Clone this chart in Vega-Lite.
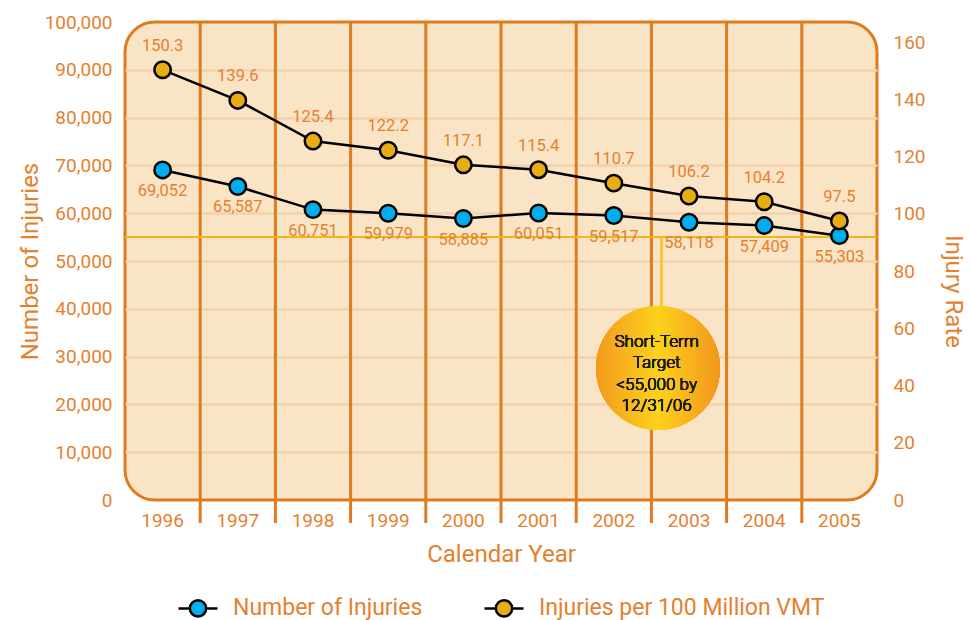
{
  "$schema": "https://vega.github.io/schema/vega-lite/v6.json",
  "width": 752,
  "height": 478,
  "autosize": {"type": "none"},
  "padding": {"left": 125, "top": 22, "right": 93, "bottom": 120},
  "background": "white",
  "config": {
    "view": {"fill": "#f9e5c6", "stroke": "#e07a1f", "strokeWidth": 3, "cornerRadius": 30},
    "font": "Roboto",
    "axis": {
      "labelFont": "Roboto", "titleFont": "Roboto",
      "labelColor": "#e4812f", "titleColor": "#e4812f",
      "titleFontWeight": "normal", "domain": false, "ticks": false
    }
  },
  "data": {
    "values": [
      {"year": 1996, "injuries": 69052, "rate": 150.3},
      {"year": 1997, "injuries": 65587, "rate": 139.6},
      {"year": 1998, "injuries": 60751, "rate": 125.4},
      {"year": 1999, "injuries": 59979, "rate": 122.2},
      {"year": 2000, "injuries": 58885, "rate": 117.1},
      {"year": 2001, "injuries": 60051, "rate": 115.4},
      {"year": 2002, "injuries": 59517, "rate": 110.7},
      {"year": 2003, "injuries": 58118, "rate": 106.2},
      {"year": 2004, "injuries": 57409, "rate": 104.2},
      {"year": 2005, "injuries": 55303, "rate": 97.5}
    ]
  },
  "layer": [
    {
      "layer": [
        {
          "transform": [{"filter": "datum.year > 1996"}],
          "mark": {"type": "rule", "color": "#e07a1f", "strokeWidth": 3},
          "encoding": {
            "x": {
              "field": "year", "type": "ordinal", "bandPosition": 0,
              "scale": {"type": "band", "paddingInner": 0, "paddingOuter": 0},
              "axis": {
                "title": "Calendar Year", "labelAngle": 0, "labelFontSize": 19,
                "labelPadding": 11, "titleFontSize": 24, "titlePadding": 12, "grid": false
              }
            },
            "y": {
              "datum": 100000, "type": "quantitative",
              "scale": {"domain": [0, 100000], "nice": false},
              "axis": {
                "title": "Number of Injuries", "orient": "left",
                "values": [0, 10000, 20000, 30000, 40000, 50000, 60000, 70000, 80000, 90000, 100000],
                "labelExpr": "format(datum.value, ',')", "labelFontSize": 19, "labelPadding": 13,
                "titleFontSize": 24, "titlePadding": 2,
                "grid": true, "gridColor": "#f3cfad", "gridWidth": 2.5,
                "gridOpacity": {"condition": {"test": "datum.value === 0 || datum.value === 100000", "value": 0}, "value": 1}
              }
            },
            "y2": {"datum": -4800}
          }
        },
        {
          "mark": {"type": "rule", "color": "#f7b318", "strokeWidth": 2},
          "encoding": {"y": {"datum": 55000, "type": "quantitative"}}
        },
        {
          "mark": {"type": "rule", "color": "#fcc52c", "strokeWidth": 2},
          "encoding": {
            "x": {"datum": 2003, "type": "ordinal", "bandPosition": 0.13},
            "y": {"datum": 55000, "type": "quantitative"},
            "y2": {"datum": 40000}
          }
        },
        {
          "mark": {
            "type": "point", "filled": true, "size": 15376, "opacity": 1, "strokeWidth": 0,
            "color": {
              "gradient": "linear", "x1": 0, "y1": 0, "x2": 1, "y2": 0,
              "stops": [
                {"offset": 0, "color": "#f39a1d"},
                {"offset": 0.5, "color": "#fdd21c"},
                {"offset": 1, "color": "#f3951d"}
              ]
            }
          },
          "encoding": {
            "x": {"datum": 2003, "type": "ordinal", "bandPosition": 0.088},
            "y": {"datum": 27615, "type": "quantitative"}
          }
        },
        {
          "mark": {
            "type": "text", "text": ["Short-Term", "Target", "<55,000 by", "12/31/06"],
            "font": "Roboto", "fontSize": 17, "fontWeight": 300, "lineHeight": 21.3, "fill": "#1a1a1a", "strokeWidth": 0,
            "align": "center", "baseline": "middle"
          },
          "encoding": {
            "x": {"datum": 2003, "type": "ordinal", "bandPosition": 0.07},
            "y": {"datum": 33054, "type": "quantitative"}
          }
        },
        {
          "mark": {"type": "line", "color": "black", "strokeWidth": 2.5},
          "encoding": {
            "x": {"field": "year", "type": "ordinal", "bandPosition": 0.5},
            "y": {"field": "injuries", "type": "quantitative"}
          }
        },
        {
          "mark": {"type": "point", "filled": true, "size": 270, "opacity": 1, "stroke": "black", "strokeWidth": 2.5},
          "encoding": {
            "x": {"field": "year", "type": "ordinal", "bandPosition": 0.5},
            "y": {"field": "injuries", "type": "quantitative"},
            "fill": {
              "datum": "Number of Injuries", "type": "nominal",
              "scale": {"domain": ["Number of Injuries", "Injuries per 100 Million VMT"], "range": ["#00aeef", "#e8ad12"]},
              "legend": {
                "title": null, "orient": "none", "legendX": 52, "legendY": 565,
                "direction": "horizontal", "padding": 0,
                "symbolType": "M-1,0H-0.42M0.42,0H1M-0.42,0A0.42,0.42,0,1,1,0.42,0A0.42,0.42,0,1,1,-0.42,0Z",
                "symbolSize": 1521, "symbolStrokeColor": "black", "symbolStrokeWidth": 2.5, "symbolOpacity": 1,
                "labelFont": "Roboto", "labelFontSize": 23, "labelColor": "#e4812f",
                "labelOffset": 14, "columnPadding": 56, "labelLimit": 400
              }
            }
          }
        },
        {
          "mark": {"type": "text", "font": "Roboto", "fontSize": 16.5, "color": "#e4812f", "dy": 21, "baseline": "middle"},
          "encoding": {
            "x": {"field": "year", "type": "ordinal", "bandPosition": 0.5},
            "y": {"field": "injuries", "type": "quantitative"},
            "text": {"field": "injuries", "type": "quantitative", "format": ","}
          }
        }
      ]
    },
    {
      "layer": [
        {
          "mark": {"type": "line", "color": "black", "strokeWidth": 2.5},
          "encoding": {
            "x": {"field": "year", "type": "ordinal", "bandPosition": 0.5},
            "y": {
              "field": "rate", "type": "quantitative",
              "scale": {"domain": [0, 167], "nice": false},
              "axis": {
                "title": "Injury Rate", "orient": "right",
                "values": [0, 20, 40, 60, 80, 100, 120, 140, 160],
                "labelFontSize": 19, "labelPadding": 16,
                "titleFontSize": 24, "titlePadding": 15, "titleY": 269, "grid": false
              }
            }
          }
        },
        {
          "mark": {"type": "point", "filled": true, "size": 270, "opacity": 1, "stroke": "black", "strokeWidth": 2.5},
          "encoding": {
            "x": {"field": "year", "type": "ordinal", "bandPosition": 0.5},
            "y": {"field": "rate", "type": "quantitative"},
            "fill": {"datum": "Injuries per 100 Million VMT", "type": "nominal"}
          }
        },
        {
          "mark": {"type": "text", "font": "Roboto", "fontSize": 16.5, "color": "#e4812f", "dy": -24, "baseline": "middle"},
          "encoding": {
            "x": {"field": "year", "type": "ordinal", "bandPosition": 0.5},
            "y": {"field": "rate", "type": "quantitative"},
            "text": {"field": "rate", "type": "quantitative", "format": ".1f"}
          }
        }
      ]
    }
  ],
  "resolve": {"scale": {"y": "independent"}}
}
